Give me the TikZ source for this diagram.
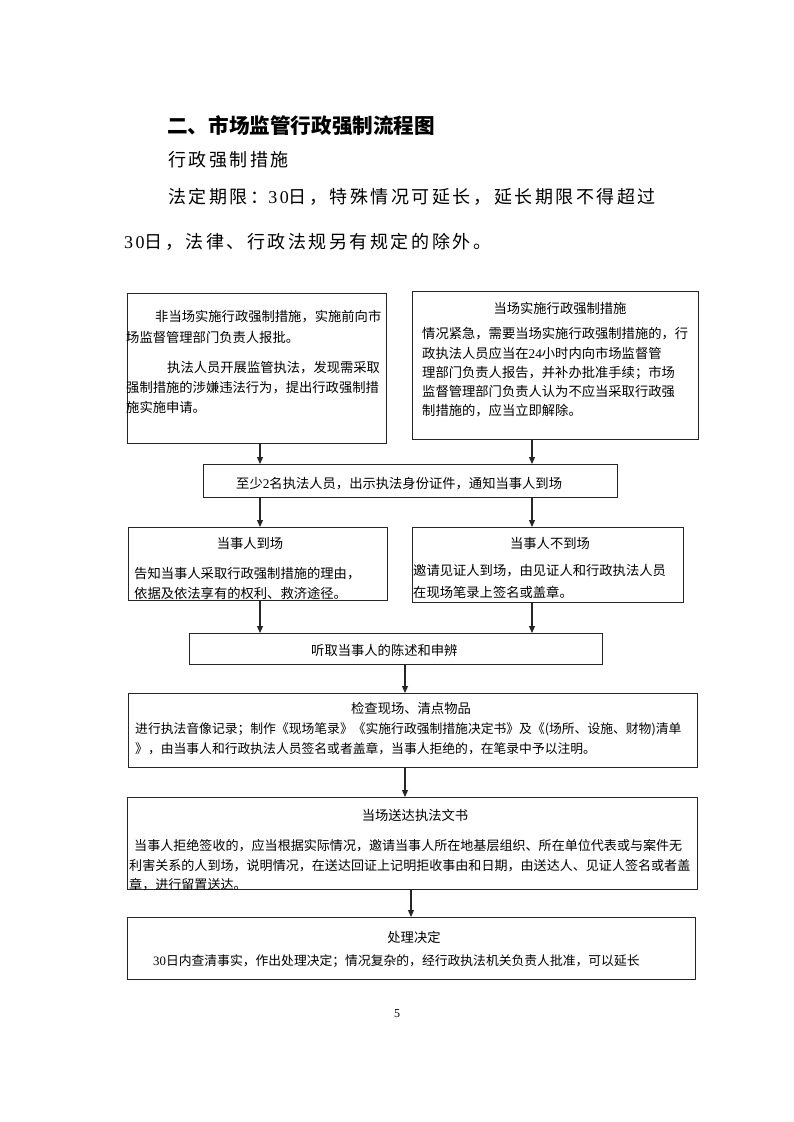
\documentclass[tikz,border=0pt]{standalone}
\usepackage{fontspec}
\setmainfont{Liberation Serif}
\newfontfamily\cjk{Noto Sans CJK SC}
\newfontfamily\cjkls[LetterSpace=14]{Noto Sans CJK SC}
\newfontfamily\dgf{Liberation Serif}
\newfontfamily\dglsf[LetterSpace=14]{Liberation Serif}
\newcommand\digs[1]{{\dgf #1}}
\newcommand\digsls[1]{{\dglsf #1}}
\usetikzlibrary{arrows.meta}
\begin{document}
\begin{tikzpicture}[x=1pt,y=-1pt,
  box/.style={draw=black!85, line width=1.2pt, inner sep=0pt, anchor=north west},
  txt/.style={inner sep=0pt, anchor=base west, font=\cjk\fontsize{13.3}{16}\selectfont},
  txtg/.style={inner sep=0pt, anchor=base west, font=\cjk\fontsize{12.8}{16}\selectfont},
  txth/.style={inner sep=0pt, anchor=base west, font=\cjk\fontsize{13.05}{16}\selectfont},
  ttl/.style={inner sep=0pt, anchor=base, font=\cjk\fontsize{13.3}{16}\selectfont},
  hd/.style={inner sep=0pt, anchor=base west, font=\cjkls\fontsize{18}{22}\selectfont},
  arr/.style={draw=black!85, line width=1.2pt, -{Triangle[width=6pt,length=7pt]}}
]
\useasboundingbox[fill=white] (0,0) rectangle (793,1122);

% header
\node[inner sep=0pt, anchor=base west, font=\cjk\bfseries\fontsize{20.6}{24}\selectfont] (h1) at (167,133) {二、市场监管行政强制流程图};
\node[hd] (h2) at (168,166) {行政强制措施};
\node[hd] (h3) at (168,203) {法定期限：\digsls{30}日，特殊情况可延长，延长期限不得超过};
\node[hd] (h4) at (124,248) {\digsls{30}日，法律、行政法规另有规定的除外。};

% boxes
\node[box, minimum width=259pt, minimum height=150pt] (A) at (127,293) {};
\node[box, minimum width=286pt, minimum height=148pt] (B) at (412,291) {};
\node[box, minimum width=414pt, minimum height=33pt] (C) at (203,464) {};
\node[box, minimum width=259pt, minimum height=73pt] (D) at (128,527) {};
\node[box, minimum width=271pt, minimum height=75pt] (E) at (412,527) {};
\node[box, minimum width=413pt, minimum height=31pt] (F) at (189,633) {};
\node[box, minimum width=569pt, minimum height=74pt] (G) at (128,693) {};
\node[box, minimum width=570pt, minimum height=92pt] (H) at (127,797) {};
\node[box, minimum width=568pt, minimum height=62pt] (I) at (127,917) {};

% connector columns
\coordinate (xl) at (260,0);
\coordinate (xr) at (532,0);
\coordinate (xm) at (405,0);
\coordinate (xn) at (411,0);

\draw[arr] (A.south -| xl) -- (C.north -| xl);
\draw[arr] (B.south -| xr) -- (C.north -| xr);
\draw[arr] (C.south -| xl) -- (D.north -| xl);
\draw[arr] (C.south -| xr) -- (E.north -| xr);
\draw[arr] (D.south -| xl) -- (F.north -| xl);
\draw[arr] (E.south -| xr) -- (F.north -| xr);
\draw[arr] (F.south -| xm) -- (G.north -| xm);
\draw[arr] (G.south -| xm) -- (H.north -| xm);
\draw[arr] (H.south -| xn) -- (I.north -| xn);

% box A text
\node[txt] (a1) at (155,321) {非当场实施行政强制措施，实施前向市};
\node[txt] (a2) at (126,342) {场监督管理部门负责人报批。};
\node[txt] (a3) at (167,372) {执法人员开展监管执法，发现需采取};
\node[txt] (a4) at (126,392) {强制措施的涉嫌违法行为，提出行政强制措};
\node[txt] (a5) at (126,412) {施实施申请。};

% box B text
\node[ttl] (b0) at (560,313) {当场实施行政强制措施};
\node[txt] (b1) at (422,338) {情况紧急，需要当场实施行政强制措施的，行};
\node[txt] (b2) at (422,358) {政执法人员应当在\digs{24}小时内向市场监督管};
\node[txt] (b3) at (422,377) {理部门负责人报告，并补办批准手续；市场};
\node[txt] (b4) at (422,396) {监督管理部门负责人认为不应当采取行政强};
\node[txt] (b5) at (422,415) {制措施的，应当立即解除。};

% box C text
\node[txt] (c1) at (236,488) {至少\digs{2}名执法人员，出示执法身份证件，通知当事人到场};

% box D text
\node[ttl] (d0) at (250,548) {当事人到场};
\node[txt] (d1) at (134,578) {告知当事人采取行政强制措施的理由，};
\node[txt] (d2) at (134,598) {依据及依法享有的权利、救济途径。};

% box E text
\node[ttl] (e0) at (550,548) {当事人不到场};
\node[txt] (e1) at (413,575) {邀请见证人到场，由见证人和行政执法人员};
\node[txt] (e2) at (413,597) {在现场笔录上签名或盖章。};

% box F text
\node[txt] (f1) at (311,655) {听取当事人的陈述和申辨};

% box G text
\node[ttl] (g0) at (411,713) {检查现场、清点物品};
\node[txtg] (g1) at (135,733) {进行执法音像记录；制作《现场笔录》《实施行政强制措施决定书》及《(场所、设施、财物)清单};
\node[txtg] (g2) at (135,753) {》，由当事人和行政执法人员签名或者盖章，当事人拒绝的，在笔录中予以注明。};

% box H text
\node[ttl] (hh0) at (415,820) {当场送达执法文书};
\node[txth] (hh1) at (134,850) {当事人拒绝签收的，应当根据实际情况，邀请当事人所在地基层组织、所在单位代表或与案件无};
\node[txth] (hh2) at (129,870) {利害关系的人到场，说明情况，在送达回证上记明拒收事由和日期，由送达人、见证人签名或者盖};
\node[txth] (hh3) at (129,889) {章，进行留置送达。};

% box I text
\node[ttl] (i0) at (414,942) {处理决定};
\node[txtg] (i1) at (153,965) {\digs{30}日内查清事实，作出处理决定；情况复杂的，经行政执法机关负责人批准，可以延长};

% page number
\node[inner sep=0pt, anchor=base, font=\fontsize{12}{14}\selectfont] (pg) at (397,1017) {5};
\end{tikzpicture}
\end{document}
